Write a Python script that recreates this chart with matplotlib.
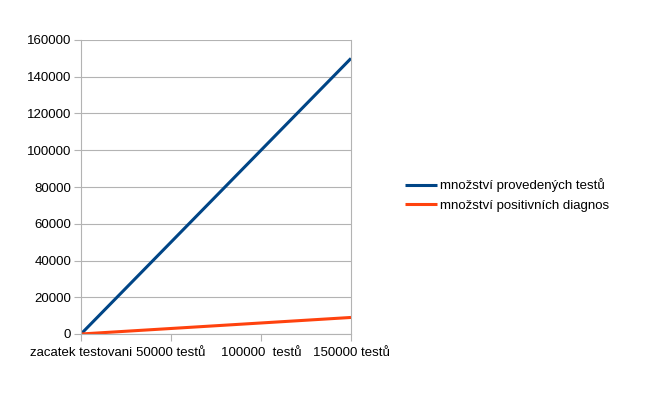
import matplotlib
matplotlib.use('Agg')
import matplotlib.pyplot as plt

# Data
categories = ['zacatek testovani', '50000 testů', '100000  testů', '150000 testů']
provedenych = [0, 50000, 100000, 150000]
positivnich = [0, 3000, 6000, 9000]

plt.rcParams['font.family'] = ['Liberation Sans', 'DejaVu Sans']
size = 9.5
grid_col = '#b3b3b3'

fig = plt.figure(figsize=(6.55, 3.93), dpi=100)
ax = fig.add_axes([81/655, 59/393, 270/655, 294/393])

x = range(len(categories))
ax.plot(x, provedenych, color='#004586', lw=2.2, label='množství provedených testů',
        solid_capstyle='butt')
ax.plot(x, positivnich, color='#ff420e', lw=2.2, label='množství positivních diagnos',
        solid_capstyle='butt')

ax.set_xlim(0, len(categories) - 1)
ax.set_ylim(0, 160000)
ax.set_yticks(range(0, 160001, 20000))
ax.set_xticks(list(x))
ax.set_xticklabels(categories, fontsize=size)
ax.tick_params(axis='y', labelsize=size, length=5, color=grid_col, pad=2)
ax.tick_params(axis='x', length=5, color=grid_col, pad=4)
ax.yaxis.grid(True, color=grid_col, lw=0.8)
ax.set_axisbelow(True)
for s in ['left', 'right', 'bottom']:
    ax.spines[s].set_color(grid_col)
    ax.spines[s].set_linewidth(0.8)
ax.spines['top'].set_visible(False)

leg = fig.legend(loc='center left', bbox_to_anchor=(393/655, 1 - 195/393),
                 frameon=False, fontsize=size, handlelength=2.4, handletextpad=0.25,
                 labelspacing=0.55)

plt.savefig('out.png', dpi=100)
plt.close()
